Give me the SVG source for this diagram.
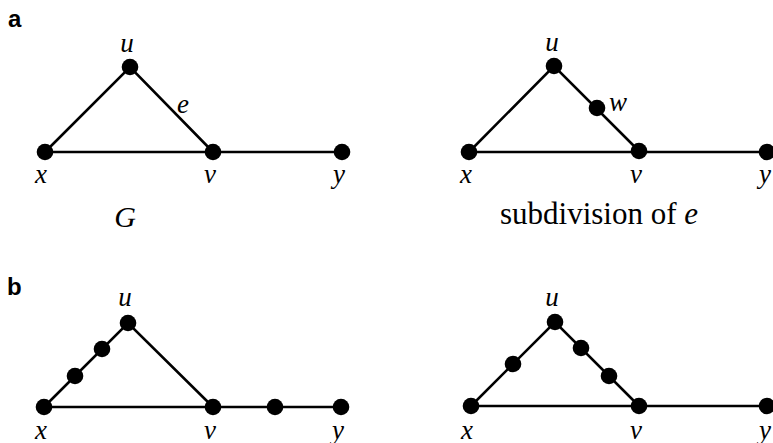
<svg xmlns="http://www.w3.org/2000/svg" width="773" height="443" viewBox="0 0 773 443">
<style>
.e{stroke:#000;stroke-width:2.6;fill:none}
.n{fill:#000}
.l{font-family:"Liberation Serif",serif;font-style:italic;font-size:27px;fill:#000;text-anchor:middle}
.t{font-family:"Liberation Serif",serif;font-size:31px;fill:#000}
.p{font-family:"Liberation Sans",Arial,sans-serif;font-weight:bold;font-size:24px;fill:#000}
</style>
<rect width="773" height="443" fill="#fff"/>
<text class="p" x="8" y="27">a</text>
<text class="p" x="7" y="295">b</text>
<g id="connectors">
<path class="e" d="M45 152L130 67L213 152M45 152H342"/>
<path class="e" d="M469 152L554 66L639 151M469 152H773"/>
<path class="e" d="M44 407L128 323L213 407M44 407H342"/>
<path class="e" d="M471 406L555 322L639 406M471 406H773"/>
</g>
<g id="a-left">
<g id="a1-x"><circle class="n" cx="45" cy="152" r="8.3"/><text class="l" x="41" y="183">x</text></g>
<g id="a1-u"><circle class="n" cx="130" cy="67" r="8.3"/><text class="l" x="127" y="52">u</text></g>
<g id="a1-v"><circle class="n" cx="213" cy="152" r="8.3"/><text class="l" x="210" y="183">v</text></g>
<g id="a1-y"><circle class="n" cx="342" cy="152" r="8.3"/><text class="l" x="339" y="183">y</text></g>
<g id="a1-e"><text class="l" x="183" y="113">e</text></g>
<g id="a1-G"><text class="l" x="125" y="227" style="font-size:30px">G</text></g>
</g>
<g id="a-right">
<g id="a2-x"><circle class="n" cx="469" cy="152" r="8.3"/><text class="l" x="466" y="183">x</text></g>
<g id="a2-u"><circle class="n" cx="554" cy="66" r="8.3"/><text class="l" x="552" y="51">u</text></g>
<g id="a2-w"><circle class="n" cx="597" cy="108" r="8.3"/><text class="l" x="618" y="111">w</text></g>
<g id="a2-v"><circle class="n" cx="639" cy="151" r="8.3"/><text class="l" x="636" y="183">v</text></g>
<g id="a2-y"><circle class="n" cx="767" cy="152" r="8.3"/><text class="l" x="765" y="183">y</text></g>
<g id="a2-cap"><text class="t" x="500" y="224">subdivision of <tspan style="font-style:italic">e</tspan></text></g>
</g>
<g id="b-left">
<g id="b1-x"><circle class="n" cx="44" cy="407" r="8.3"/><text class="l" x="41" y="439">x</text></g>
<g id="b1-s1"><circle class="n" cx="75" cy="376" r="8.3"/></g>
<g id="b1-s2"><circle class="n" cx="102" cy="349" r="8.3"/></g>
<g id="b1-u"><circle class="n" cx="128" cy="323" r="8.3"/><text class="l" x="125" y="306">u</text></g>
<g id="b1-v"><circle class="n" cx="213" cy="407" r="8.3"/><text class="l" x="210" y="439">v</text></g>
<g id="b1-s3"><circle class="n" cx="275" cy="407" r="8.3"/></g>
<g id="b1-y"><circle class="n" cx="341" cy="407" r="8.3"/><text class="l" x="338" y="439">y</text></g>
</g>
<g id="b-right">
<g id="b2-x"><circle class="n" cx="471" cy="406" r="8.3"/><text class="l" x="467" y="439">x</text></g>
<g id="b2-s1"><circle class="n" cx="513" cy="364" r="8.3"/></g>
<g id="b2-u"><circle class="n" cx="555" cy="322" r="8.3"/><text class="l" x="552" y="306">u</text></g>
<g id="b2-s2"><circle class="n" cx="581" cy="348" r="8.3"/></g>
<g id="b2-s3"><circle class="n" cx="609" cy="376" r="8.3"/></g>
<g id="b2-v"><circle class="n" cx="639" cy="406" r="8.3"/><text class="l" x="636" y="439">v</text></g>
<g id="b2-y"><circle class="n" cx="767" cy="406" r="8.3"/><text class="l" x="765" y="439">y</text></g>
</g>
</svg>
